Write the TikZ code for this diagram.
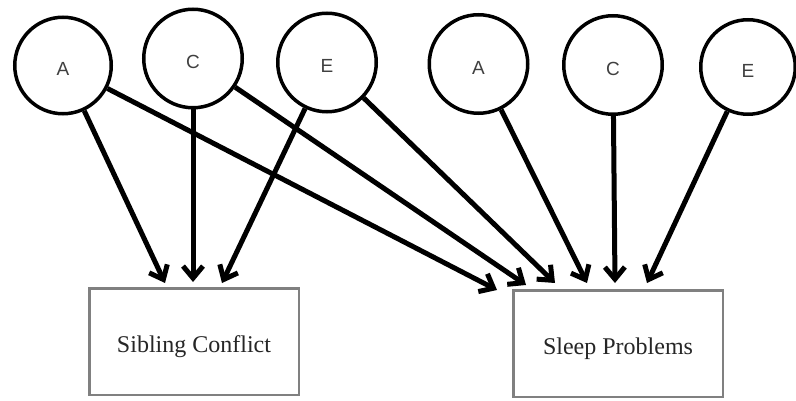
\documentclass[tikz,border=0pt]{standalone}
\usepackage{fontspec}
\setmainfont{Liberation Serif}
\newfontfamily\lsans{Liberation Sans}
\usetikzlibrary{arrows.meta}
\begin{document}
\begin{tikzpicture}[x=1pt,y=-1pt,
  latent/.style={circle,draw=black,line width=3.5pt,inner sep=0pt,
    font=\lsans\fontsize{19}{19}\selectfont,text=black!75,text height=20.5pt,text depth=0pt},
  obs/.style={rectangle,draw=black!50,line width=2.5pt,minimum width=209.5pt,minimum height=106.5pt,
    inner sep=0pt,font=\fontsize{24}{24}\selectfont,text=black!85,text height=22pt,text depth=0pt},
  link/.style={line width=5pt,-{Straight Barb[length=12pt,width=20pt]}}]
\fill[white] (0,0) rectangle (796,401);
\useasboundingbox (0,0) rectangle (796,401);
\node[latent,minimum size=96.5pt] (A1) at (63,65.5) {A};
\node[latent,minimum size=98.5pt] (C1) at (193,58.5) {C};
\node[latent,minimum size=98.5pt] (E1) at (327,62.5) {E};
\node[latent,minimum size=98.5pt] (A2) at (478.5,64) {A};
\node[latent,minimum size=98.5pt] (C2) at (613,65) {C};
\node[latent,minimum size=94.5pt] (E2) at (748,67) {E};
\node[obs] (SC) at (194,341.5) {Sibling Conflict};
\node[obs] (SP) at (618,343.5) {Sleep Problems};
\coordinate (s1) at (165,283);
\coordinate (s2) at (193,282);
\coordinate (s3) at (222,283);
\coordinate (p1) at (497,290);
\coordinate (p2) at (526,285);
\coordinate (p3) at (555,283);
\coordinate (p4) at (587,283);
\coordinate (p5) at (615,283);
\coordinate (p6) at (647,283);
\draw[link] (A1) -- (s1);
\draw[link] (C1) -- (s2);
\draw[link] (E1) -- (s3);
\draw[link] (A1) -- (p1);
\draw[link] (C1) -- (p2);
\draw[link] (E1) -- (p3);
\draw[link] (A2) -- (p4);
\draw[link] (C2) -- (p5);
\draw[link] (E2) -- (p6);
\end{tikzpicture}
\end{document}
